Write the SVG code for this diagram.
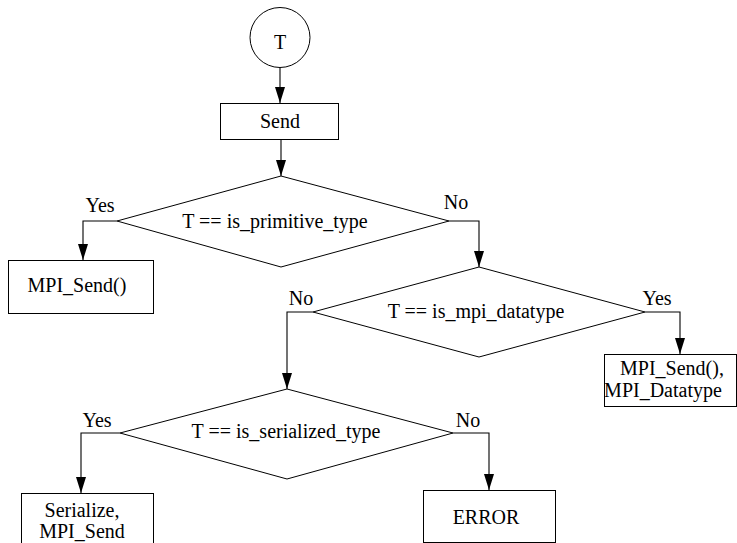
<svg xmlns="http://www.w3.org/2000/svg" width="737" height="543" viewBox="0 0 737 543">
<defs>
<marker id="ah" markerUnits="userSpaceOnUse" markerWidth="16" markerHeight="10" refX="16" refY="5" orient="auto">
<path d="M0,0 L16,5 L0,10 z" fill="#000"/>
</marker>
<style>
.n{fill:#fff;stroke:#000;stroke-width:1}
.c{fill:none;stroke:#000;stroke-width:1.1;marker-end:url(#ah)}
text{font-family:"Liberation Serif","Times New Roman",serif;font-size:20px;fill:#000}
.m{text-anchor:middle}
</style>
</defs>
<rect width="737" height="543" fill="#fff"/>
<g id="connectors">
<path class="c" d="M280,68 V103"/>
<path class="c" d="M281,139 V176"/>
<path class="c" d="M117,221 H83 V260"/>
<path class="c" d="M449,221 H479 V267"/>
<path class="c" d="M313,312 H287 V389"/>
<path class="c" d="M645,312 H680 V354"/>
<path class="c" d="M120,433 H81 V493"/>
<path class="c" d="M453,433 H489 V490"/>
</g>
<g id="labels">
<text class="m" x="100" y="212">Yes</text>
<text class="m" x="456" y="209">No</text>
<text class="m" x="301" y="305">No</text>
<text class="m" x="657" y="305">Yes</text>
<text class="m" x="97" y="427">Yes</text>
<text class="m" x="468" y="427">No</text>
</g>
<g id="start">
<circle class="n" cx="280" cy="37.5" r="30"/>
<text class="m" x="280" y="49">T</text>
</g>
<g id="send">
<rect class="n" x="220.5" y="103.5" width="118" height="36"/>
<text class="m" x="280" y="128">Send</text>
</g>
<g id="d1">
<polygon class="n" points="281,176 449,221 281,267 117,221"/>
<text class="m" x="275" y="228">T == is_primitive_type</text>
</g>
<g id="mpisend">
<rect class="n" x="8.5" y="260.5" width="145" height="53"/>
<text class="m" x="77" y="292">MPI_Send()</text>
</g>
<g id="d2">
<polygon class="n" points="479,267 645,312 479,357 313,312"/>
<text class="m" x="476" y="318">T == is_mpi_datatype</text>
</g>
<g id="mpidatatype">
<rect class="n" x="604.5" y="354.5" width="132" height="52"/>
<text class="m" x="672" y="375">MPI_Send(),</text>
<text class="m" x="663" y="397">MPI_Datatype</text>
</g>
<g id="d3">
<polygon class="n" points="287,389 453,433 287,479 120,433"/>
<text class="m" x="286" y="438">T == is_serialized_type</text>
</g>
<g id="serialize">
<rect class="n" x="21.5" y="493.5" width="132" height="60"/>
<text class="m" x="82" y="517">Serialize,</text>
<text class="m" x="82" y="538">MPI_Send</text>
</g>
<g id="error">
<rect class="n" x="423.5" y="490.5" width="132" height="52"/>
<text class="m" x="486" y="524">ERROR</text>
</g>
</svg>
